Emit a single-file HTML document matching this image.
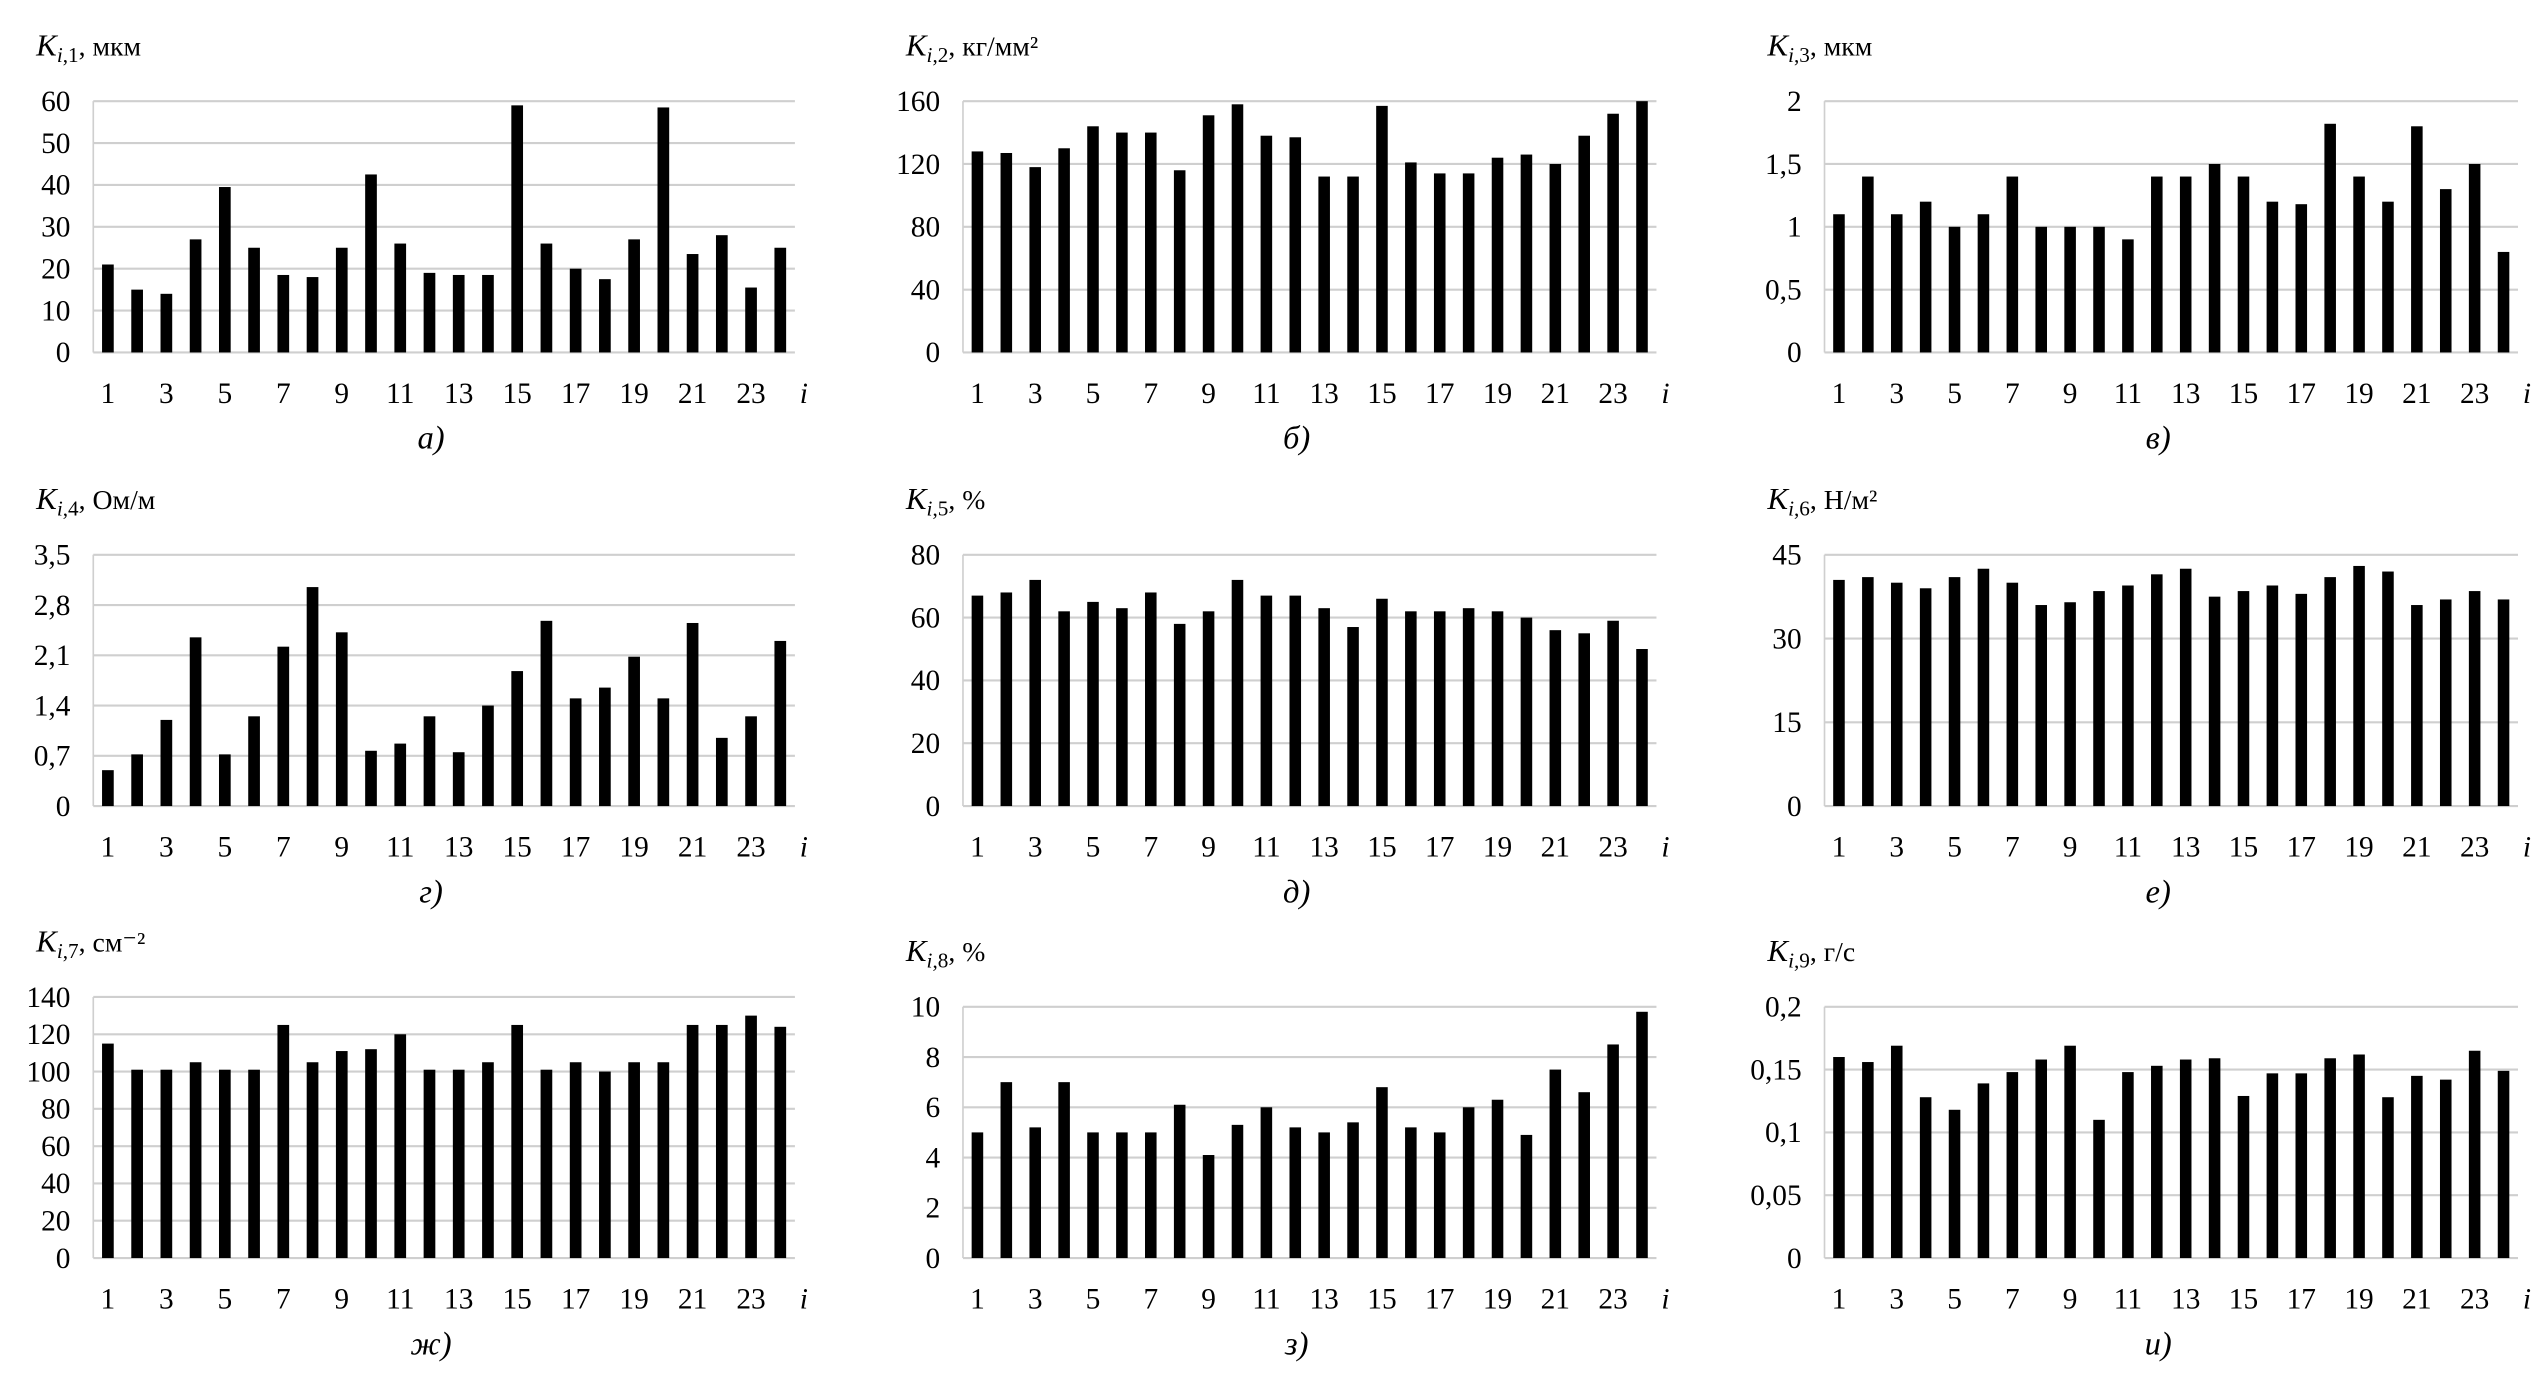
<!DOCTYPE html>
<html><head><meta charset="utf-8"><style>
html,body{margin:0;padding:0;background:#fff;}
svg, svg text{font-family:"Liberation Serif","Times New Roman",serif;}
</style></head><body>
<svg id="fig" width="2546" height="1369" viewBox="0 0 1560 839" xmlns="http://www.w3.org/2000/svg" font-family="Liberation Serif, serif"></svg>
<script>
const categories=[1,2,3,4,5,6,7,8,9,10,11,12,13,14,15,16,17,18,19,20,21,22,23,24];
const valuesA=[21,15,14,27,39.5,25,18.5,18,25,42.5,26,19,18.5,18.5,59,26,20,17.5,27,58.5,23.5,28,15.5,25];
const valuesB=[128,127,118,130,144,140,140,116,151,158,138,137,112,112,157,121,114,114,124,126,120,138,152,160];
const valuesC=[1.1,1.4,1.1,1.2,1.0,1.1,1.4,1.0,1.0,1.0,0.9,1.4,1.4,1.5,1.4,1.2,1.18,1.82,1.4,1.2,1.8,1.3,1.5,0.8];
const valuesD=[0.5,0.72,1.2,2.35,0.72,1.25,2.22,3.05,2.42,0.77,0.87,1.25,0.75,1.4,1.88,2.58,1.5,1.65,2.08,1.5,2.55,0.95,1.25,2.3];
const valuesE=[67,68,72,62,65,63,68,58,62,72,67,67,63,57,66,62,62,63,62,60,56,55,59,50];
const valuesF=[40.5,41,40,39,41,42.5,40,36,36.5,38.5,39.5,41.5,42.5,37.5,38.5,39.5,38,41,43,42,36,37,38.5,37];
const valuesG=[115,101,101,105,101,101,125,105,111,112,120,101,101,105,125,101,105,100,105,105,125,125,130,124];
const valuesH=[5,7,5.2,7,5,5,5,6.1,4.1,5.3,6,5.2,5,5.4,6.8,5.2,5,6,6.3,4.9,7.5,6.6,8.5,9.8];
const valuesI=[0.16,0.156,0.169,0.128,0.118,0.139,0.148,0.158,0.169,0.11,0.148,0.153,0.158,0.159,0.129,0.147,0.147,0.159,0.162,0.128,0.145,0.142,0.165,0.149];
const ticksA=[0,10,20,30,40,50,60];
const ticksB=[0,40,80,120,160];
const ticksC=[0,0.5,1,1.5,2];
const ticksD=[0,0.7,1.4,2.1,2.8,3.5];
const ticksE=[0,20,40,60,80];
const ticksF=[0,15,30,45];
const ticksG=[0,20,40,60,80,100,120,140];
const ticksH=[0,2,4,6,8,10];
const ticksI=[0,0.05,0.1,0.15,0.2];
const tickTextA=["0","10","20","30","40","50","60"];
const tickTextB=["0","40","80","120","160"];
const tickTextC=["0","0,5","1","1,5","2"];
const tickTextD=["0","0,7","1,4","2,1","2,8","3,5"];
const tickTextE=["0","20","40","60","80"];
const tickTextF=["0","15","30","45"];
const tickTextG=["0","20","40","60","80","100","120","140"];
const tickTextH=["0","2","4","6","8","10"];
const tickTextI=["0","0,05","0,1","0,15","0,2"];

const NS="http://www.w3.org/2000/svg";
const svg=document.getElementById('fig');
const FF='"Liberation Serif", serif';
function mk(tag,attrs,parent,text){const e=document.createElementNS(NS,tag);for(const k in attrs)e.setAttribute(k,attrs[k]);if(tag==='text')e.style.fontFamily=FF;if(text!==undefined)e.textContent=text;(parent||svg).appendChild(e);return e;}

const charts=[
 {id:'a',vals:valuesA,ticks:ticksA,tt:tickTextA,x0:57,x1:487,y0:62,y1:216,sub:'i,1',unit:', мкм',cap:'a)'},
 {id:'b',vals:valuesB,ticks:ticksB,tt:tickTextB,x0:590,x1:1015,y0:62,y1:216,sub:'i,2',unit:', кг/мм²',cap:'б)'},
 {id:'c',vals:valuesC,ticks:ticksC,tt:tickTextC,x0:1118,x1:1543,y0:62,y1:216,sub:'i,3',unit:', мкм',cap:'в)'},
 {id:'d',vals:valuesD,ticks:ticksD,tt:tickTextD,x0:57,x1:487,y0:340,y1:494,sub:'i,4',unit:', Ом/м',cap:'г)'},
 {id:'e',vals:valuesE,ticks:ticksE,tt:tickTextE,x0:590,x1:1015,y0:340,y1:494,sub:'i,5',unit:', %',cap:'д)'},
 {id:'f',vals:valuesF,ticks:ticksF,tt:tickTextF,x0:1118,x1:1543,y0:340,y1:494,sub:'i,6',unit:', Н/м²',cap:'е)'},
 {id:'g',vals:valuesG,ticks:ticksG,tt:tickTextG,x0:57,x1:487,y0:611,y1:771,sub:'i,7',unit:', см⁻²',cap:'ж)'},
 {id:'h',vals:valuesH,ticks:ticksH,tt:tickTextH,x0:590,x1:1015,y0:617,y1:771,sub:'i,8',unit:', %',cap:'з)'},
 {id:'i',vals:valuesI,ticks:ticksI,tt:tickTextI,x0:1118,x1:1543,y0:617,y1:771,sub:'i,9',unit:', г/с',cap:'и)'}
];

charts.forEach(c=>{
  const g=mk('g',{});
  
  
  const maxT=c.ticks[c.ticks.length-1];
  const yS=v=>c.y1-(v/maxT)*(c.y1-c.y0);
  const slot=(c.x1-c.x0)/categories.length;
  const xS=i=>c.x0+(i+0.5)*slot;
  c.ticks.forEach((t,k)=>{
    const ln=mk('line',{x1:c.x0,x2:c.x1,y1:yS(t),y2:yS(t),stroke:'#cfcfcf','stroke-width':1.3},g);
    
    
    const tx=mk('text',{x:c.x0-14,y:yS(t)+6,'text-anchor':'end','font-size':18},g,c.tt[k]);
    
    
  });
  const ax=mk('line',{x1:c.x0,x2:c.x0,y1:c.y0,y2:c.y1,stroke:'#cfcfcf','stroke-width':1},g);
  
  
  const bw=slot*0.4;
  c.vals.forEach((v,i)=>{
    const r=mk('rect',{x:xS(i)-bw/2,y:yS(v),width:bw,height:c.y1-yS(v),fill:'#000'},g);
    
    
  });
  categories.forEach((cat,i)=>{
    if(cat%2===1){
      const t=mk('text',{x:xS(i),y:c.y1+31,'text-anchor':'middle','font-size':18},g,String(cat));
      
      
    }
  });
  const il=mk('text',{x:c.x1+3,y:c.y1+31,'font-size':18,'font-style':'italic'},g,'i');
  
  
  const ti=mk('text',{x:c.x0-35,y:c.y0-28,'font-size':17},g);
  
  
  mk('tspan',{'font-style':'italic','font-size':19},ti,'K');
  mk('tspan',{'font-style':'italic','font-size':13,dy:4},ti,c.sub.split(',')[0]);
  mk('tspan',{'font-size':13},ti,','+c.sub.split(',')[1]);
  mk('tspan',{dy:-4},ti,c.unit);
  const cp=mk('text',{x:(c.x0+c.x1)/2-8,y:c.y1+59,'text-anchor':'middle','font-size':20,'font-style':'italic'},g,c.cap);
  
  
});
</script>
</body></html>
